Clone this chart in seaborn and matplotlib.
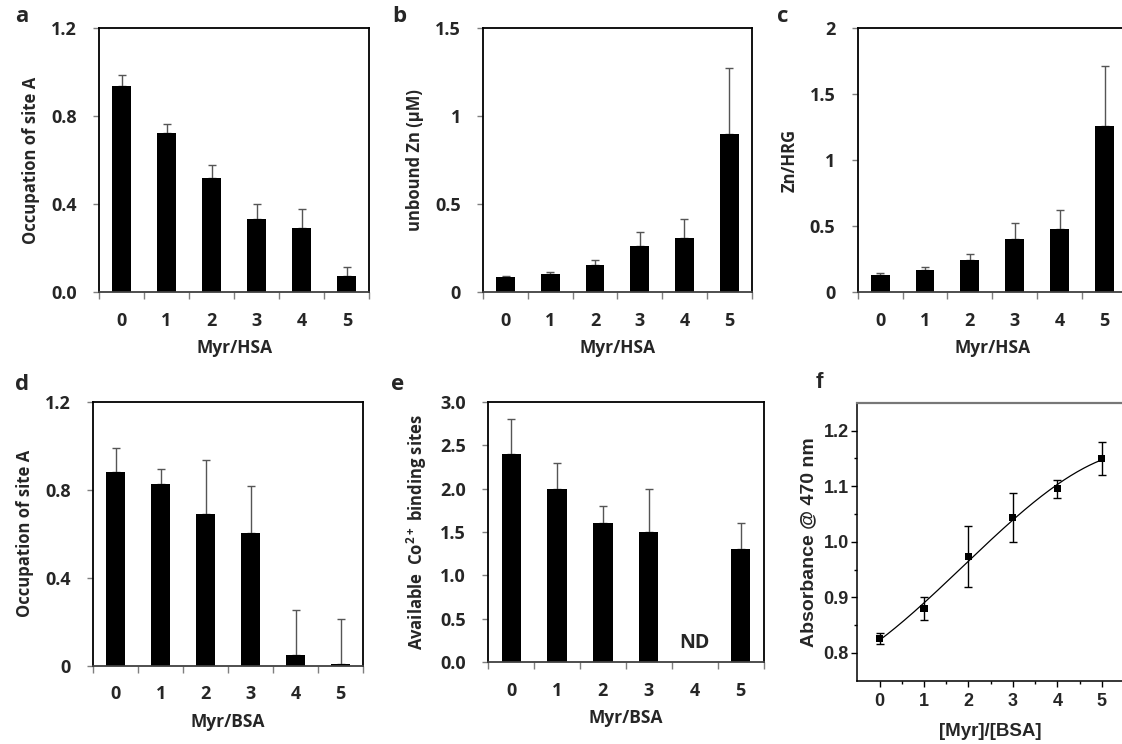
import numpy as np
import pandas as pd
import matplotlib
matplotlib.use("Agg")
import matplotlib.pyplot as plt
import seaborn as sns

# ---------------- data ----------------
ratios = ["0", "1", "2", "3", "4", "5"]

occ_hsa = [0.938, 0.726, 0.521, 0.332, 0.291, 0.073]
occ_hsa_err = [0.051, 0.038, 0.056, 0.071, 0.089, 0.041]

zn_unbound = [0.085, 0.106, 0.155, 0.261, 0.310, 0.901]
zn_unbound_err = [0.006, 0.011, 0.027, 0.080, 0.105, 0.375]

zn_hrg = [0.133, 0.169, 0.242, 0.406, 0.482, 1.260]
zn_hrg_err = [0.010, 0.020, 0.045, 0.117, 0.140, 0.452]

occ_bsa = [0.881, 0.825, 0.690, 0.602, 0.050, 0.009]
occ_bsa_err = [0.107, 0.068, 0.244, 0.215, 0.203, 0.203]

co_sites = [2.4, 2.0, 1.6, 1.5, np.nan, 1.3]
co_sites_err = [0.4, 0.3, 0.2, 0.5, np.nan, 0.3]

myr_bsa = [0, 1, 2, 3, 4, 5]
absorbance = [0.826, 0.880, 0.973, 1.043, 1.095, 1.150]
absorbance_err = [0.010, 0.020, 0.055, 0.044, 0.016, 0.030]

# ---------------- style ----------------
sns.set_style("ticks")
MAIN = ["Open Sans", "DejaVu Sans"]
plt.rcParams["font.family"] = MAIN
plt.rcParams["font.weight"] = "bold"
plt.rcParams["axes.labelweight"] = "bold"
plt.rcParams["mathtext.fontset"] = "custom"
plt.rcParams["mathtext.rm"] = "Open Sans:bold"
plt.rcParams["mathtext.default"] = "rm"

W, H = 1122, 744
fig = plt.figure(figsize=(W / 100, H / 100), dpi=100)


def rect_px(left, top, right, bottom):
    return [left / W, 1 - bottom / H, (right - left) / W, (bottom - top) / H]


def letter(txt, x, y, family=MAIN):
    fig.text(x / W, 1 - y / H, txt, ha="center", va="center",
             fontsize=16, fontweight="bold", family=family)


GRAY = "#7f7f7f"
FS_TICK = 13
FS_LAB = 12


def bar_panel(rect, values, errs, ylim, yticks, yticklabels, ylabel, xlabel):
    ax = fig.add_axes(rect)
    df = pd.DataFrame({"ratio": ratios, "value": values})
    sns.barplot(data=df, x="ratio", y="value", order=ratios, color="black",
                saturation=1, width=0.42, errorbar=None, linewidth=0,
                ax=ax, zorder=2)
    x = np.arange(len(ratios))
    ax.errorbar(x, values, yerr=[np.zeros(len(values)), errs], fmt="none",
                ecolor="#555555", elinewidth=1.0, capsize=3, capthick=1.0,
                zorder=1)
    ax.set_xlim(-0.5, 5.5)
    ax.set_ylim(*ylim)
    ax.set_yticks(yticks)
    ax.set_yticklabels(yticklabels)
    ax.set_xticks(np.arange(-0.5, 6.0, 1.0), minor=True)
    ax.tick_params(axis="x", which="major", length=0, pad=14, labelsize=FS_TICK)
    ax.tick_params(axis="x", which="minor", length=5, width=1, color=GRAY,
                   direction="out")
    ax.tick_params(axis="y", which="major", length=4, width=1, color=GRAY,
                   direction="out", pad=12, labelsize=FS_TICK)
    for lab in ax.get_xticklabels() + ax.get_yticklabels():
        lab.set_fontweight("bold")
    for s in ["left", "top", "right"]:
        ax.spines[s].set_visible(True)
        ax.spines[s].set_color("black")
        ax.spines[s].set_linewidth(1.3)
    ax.spines["bottom"].set_color("#404040")
    ax.spines["bottom"].set_linewidth(1.3)
    ax.set_xlabel(xlabel, fontsize=FS_LAB + 0.5, fontweight="bold", labelpad=7)
    ax.set_ylabel(ylabel, fontsize=FS_LAB, fontweight="bold", labelpad=8)
    return ax


# a
bar_panel(rect_px(99, 28.3, 369.3, 292.3), occ_hsa, occ_hsa_err, (0, 1.2),
          [0, 0.4, 0.8, 1.2], ["0.0", "0.4", "0.8", "1.2"],
          "Occupation of site A", "Myr/HSA")
letter("a", 22, 17)

# b
bar_panel(rect_px(483.3, 28.3, 751.5, 292.3), zn_unbound, zn_unbound_err,
          (0, 1.5), [0, 0.5, 1.0, 1.5], ["0", "0.5", "1", "1.5"],
          "unbound Zn (\u03bcM)", "Myr/HSA")
letter("b", 399, 17)

# c
bar_panel(rect_px(857.7, 28.3, 1127, 292.3), zn_hrg, zn_hrg_err,
          (0, 2.0), [0, 0.5, 1.0, 1.5, 2.0], ["0", "0.5", "1", "1.5", "2"],
          "Zn/HRG", "Myr/HSA")
letter("c", 783, 17)

# d
bar_panel(rect_px(93.3, 401.7, 363, 666), occ_bsa, occ_bsa_err, (0, 1.2),
          [0, 0.4, 0.8, 1.2], ["0", "0.4", "0.8", "1.2"],
          "Occupation of site A", "Myr/BSA")
letter("d", 22, 384)

# e
axe = bar_panel(rect_px(488.3, 401.7, 763.5, 662.3), co_sites, co_sites_err,
                (0, 3.0), [0, 0.5, 1.0, 1.5, 2.0, 2.5, 3.0],
                ["0.0", "0.5", "1.0", "1.5", "2.0", "2.5", "3.0"],
                "Available  Co$^{2+}$ binding sites", "Myr/BSA")
axe.text(4, 0.22, "ND", ha="center", va="center", fontsize=14,
         fontweight="bold")
letter("e", 398, 384)

# f
axf = fig.add_axes(rect_px(857.3, 402.7, 1124, 680.7))
coef = np.polyfit(myr_bsa, absorbance, 3)
xfine = np.linspace(min(myr_bsa), max(myr_bsa), 200)
sns.lineplot(x=xfine, y=np.polyval(coef, xfine), color="black", lw=0.9,
             ax=axf)
axf.errorbar(myr_bsa, absorbance, yerr=absorbance_err, fmt="none",
             ecolor="black", elinewidth=1.0, capsize=3, capthick=1.0)
sns.scatterplot(x=myr_bsa, y=absorbance, marker="s", s=26, color="black",
                edgecolor="none", ax=axf, zorder=3)
axf.set_xlim(-0.5, 5.5)
axf.set_ylim(0.75, 1.25)
axf.set_xticks(myr_bsa)
axf.set_xticklabels(ratios)
axf.set_xticks(np.arange(0.5, 5.0, 1.0), minor=True)
axf.set_yticks([0.8, 0.9, 1.0, 1.1, 1.2])
axf.set_yticklabels(["0.8", "0.9", "1.0", "1.1", "1.2"])
axf.set_yticks([0.85, 0.95, 1.05, 1.15], minor=True)
arial = ["Liberation Sans", "DejaVu Sans"]
axf.tick_params(axis="both", which="major", length=4, width=1,
                direction="out", color="black", labelsize=13)
axf.tick_params(axis="both", which="minor", length=2.5, width=1,
                direction="out", color="black")
axf.tick_params(axis="y", which="major", pad=2)
axf.tick_params(axis="x", which="major", pad=5)
for lab in axf.get_xticklabels() + axf.get_yticklabels():
    lab.set_family(arial)
    lab.set_fontweight("bold")
for s in ["left", "bottom"]:
    axf.spines[s].set_color("black")
    axf.spines[s].set_linewidth(1.1)
axf.spines["top"].set_visible(True)
axf.spines["top"].set_color("#777777")
axf.spines["top"].set_linewidth(1.6)
axf.spines["right"].set_visible(False)
axf.set_xlabel("[Myr]/[BSA]", fontsize=13.5, fontweight="bold",
               family=arial, labelpad=9)
axf.set_ylabel("Absorbance @ 470 nm", fontsize=14, fontweight="bold",
               family=arial, labelpad=5)
letter("f", 819, 383, family=arial)

fig.savefig("out.png", dpi=100)
